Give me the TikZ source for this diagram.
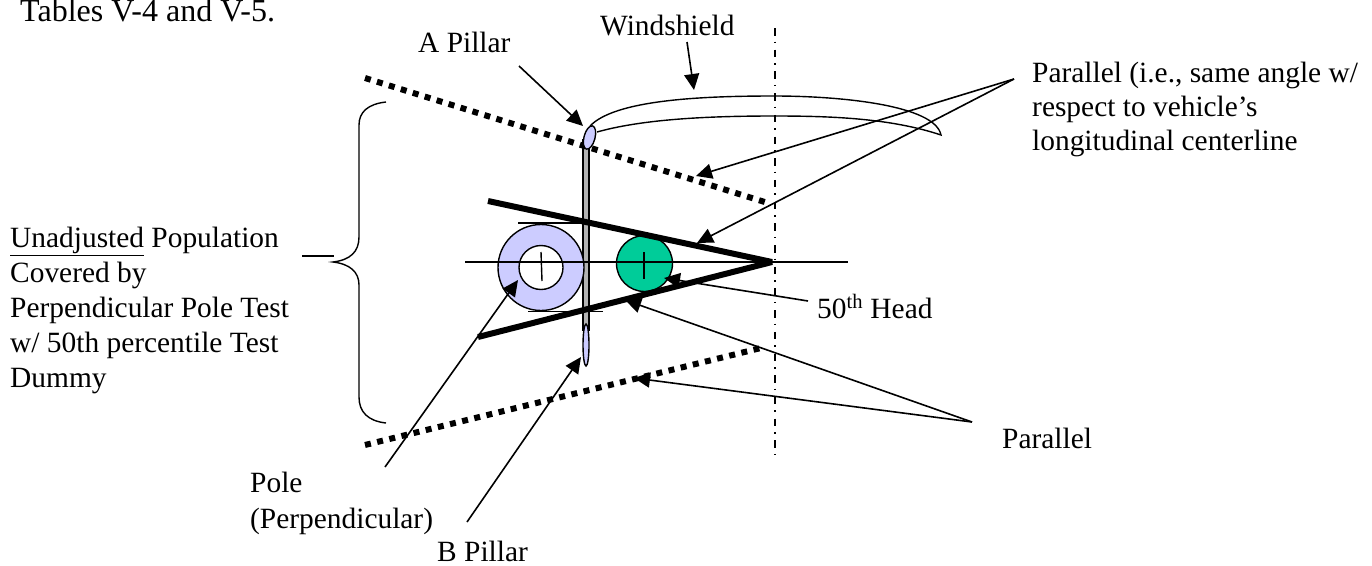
\documentclass[tikz,border=0pt]{standalone}
\usepackage{fontspec}
\setmainfont{Liberation Serif}
\usetikzlibrary{arrows.meta,positioning,calc}
\definecolor{PillarBlue}{HTML}{CCCCFF}
\definecolor{HeadGreen}{HTML}{00CC99}
\definecolor{PostGray}{HTML}{B2B2B2}
\tikzset{
  lbl/.style={inner sep=0pt,align=left,font=\fontsize{29.4}{35}\selectfont},
  callout/.style={line width=1.6pt,-{Triangle[length=16pt,width=15pt]}},
  thinline/.style={line width=1.4pt},
  dottedbar/.style={line width=6pt,dash pattern=on 6pt off 6.5pt},
  solidbar/.style={line width=6pt,line join=bevel}
}
\begin{document}
\begin{tikzpicture}[x=1pt,y=-1pt]
  \useasboundingbox (0,0) rectangle (1372,565);
  % labels
  \node[lbl,anchor=base west,font=\fontsize{32}{35}\selectfont] (tables) at (20,21) {Tables V-4 and V-5.};
  \node[lbl,anchor=base west] (windshield) at (600,35) {Windshield};
  \node[lbl,anchor=base west] (apillar) at (418,52) {A Pillar};
  \node[lbl,anchor=north west,font=\fontsize{29.4}{34}\selectfont] (parallelA) at (1032,62) {Parallel (i.e., same angle w/\\respect to vehicle’s\\longitudinal centerline};
  \node[lbl,anchor=north west] (population) at (10,227) {\underline{Unadjusted} Population\\Covered by\\Perpendicular Pole Test\\w/ 50th percentile Test\\Dummy};
  \node[lbl,anchor=base west] (head) at (817,318) {50\textsuperscript{th} Head};
  \node[lbl,anchor=base west] (parallelB) at (1002,448) {Parallel};
  \node[lbl,anchor=north west] (pole) at (250,472) {Pole\\[1pt](Perpendicular)};
  \node[lbl,anchor=base west] (bpillar) at (437,561) {B Pillar};
  % centerlines
  \draw[thinline] (465,262)--(848,262);
  \draw[line width=1.3pt,dash pattern=on 7.5pt off 6pt on 1.5pt off 6.7pt] (775,28)--(775,461);
  % pole and head
  \draw[thinline,fill=PostGray] (583,140) rectangle (589,330);
  \draw[thinline] (518,223)--(586,223);
  \draw[thinline] (528,311.5)--(603,311.5);
  \draw[thinline,fill=PillarBlue] (541,267.5) circle (43);
  \draw[thinline,fill=white] (541,267.5) circle (22);
  \draw[thinline] (541,252)--(542,281);
  \draw[thinline,fill=HeadGreen] (644.5,263.5) circle (28);
  \draw[thinline] (644,252)--(644,279);
  \draw[thinline] (465,262)--(775,262);
  % bars
  \draw[solidbar] (488,201)--(772,262)--(478,337);
  \draw[dottedbar] (365,78)--(768,203);
  \draw[dottedbar] (365,445)--(765,347);
  % pillars
  \draw[thinline,fill=PillarBlue] (589.5,137.5) ellipse[x radius=5.5,y radius=12,rotate=-15];
  \draw[thinline,fill=PillarBlue] (586,345) ellipse[x radius=3,y radius=21];
  % windshield
  \draw[thinline] (590,126) .. controls (615,100) and (700,96) .. (774,96)
    .. controls (840,96) and (935,105) .. (941,135)
    .. controls (890,118) and (830,116) .. (774,116)
    .. controls (700,116) and (640,120) .. (597,132);
  % callouts
  \coordinate (apillarTail) at (519,66);
  \coordinate (apillarTip) at (583,126);
  \coordinate (windTail) at (687,42);
  \coordinate (windTip) at (694,90);
  \coordinate (parallelTail) at (1014,79);
  \coordinate (dottedTip) at (696,176);
  \coordinate (solidTip) at (697,243);
  \coordinate (mergeTail) at (972,422);
  \coordinate (lowerSolidTip) at (625,300);
  \coordinate (lowerDottedTip) at (634,378);
  \coordinate (headTail) at (808,301);
  \coordinate (headTip) at (664,278);
  \coordinate (poleTail) at (385,467);
  \coordinate (poleTip) at (518,280);
  \coordinate (bpillarTail) at (467,522);
  \coordinate (bpillarTip) at (581,357);
  \draw[callout] (apillarTail) -- (apillarTip);
  \draw[callout] (windTail) -- (windTip);
  \draw[callout] (parallelTail) -- (dottedTip);
  \draw[callout] (parallelTail) -- (solidTip);
  \draw[callout] (mergeTail) -- (lowerSolidTip);
  \draw[callout] (mergeTail) -- (lowerDottedTip);
  \draw[callout] (headTail) -- (headTip);
  \draw[callout] (poleTail) -- (poleTip);
  \draw[callout] (bpillarTail) -- (bpillarTip);
  % brace
  \draw[thinline] (386,102) .. controls (368,104) and (359,112) .. (359,125)
    -- (359,237) .. controls (359,252) and (350,260) .. (333,262)
    .. controls (350,264) and (359,272) .. (359,285)
    -- (359,397) .. controls (359,412) and (368,421) .. (386,423);
  \draw[thinline] (302,256)--(334,256);
\end{tikzpicture}
\end{document}
